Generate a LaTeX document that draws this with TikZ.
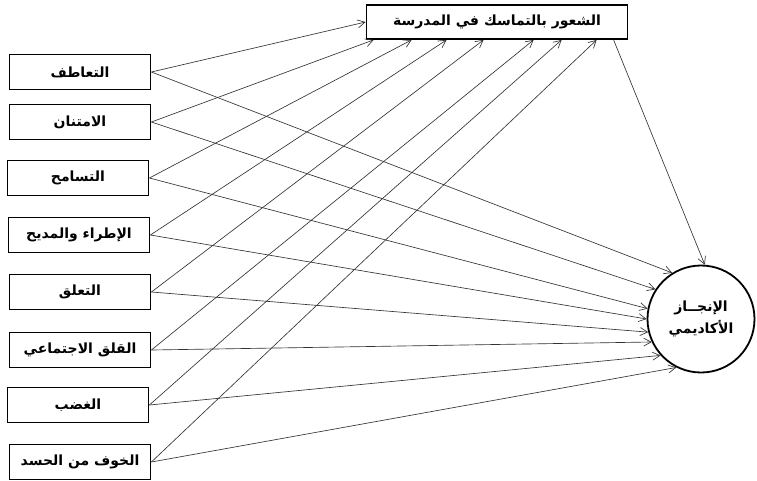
\documentclass[tikz,border=0pt]{standalone}
\usepackage{fontspec}
\newfontfamily\arabicfont[Script=Arabic]{DejaVu Sans}
\TeXXeTstate=1
\usetikzlibrary{arrows.meta, positioning}
\newcommand{\artxt}[1]{\beginR #1\endR}

\begin{document}
\begin{tikzpicture}[
  x=1pt, y=-1pt,
  font=\arabicfont\bfseries\fontsize{14}{18}\selectfont,
  >={Straight Barb[length=2.6mm,width=2.8mm]},
  fac/.style={draw, line width=1.8pt, minimum width=141pt, minimum height=35pt,
              inner sep=2pt},
  cohe/.style={draw, line width=1.8pt, minimum width=261pt, minimum height=34pt,
               inner sep=2pt},
  outc/.style={circle, draw, line width=1.8pt, minimum size=107pt, align=center,
               inner sep=0pt},
  arr/.style={->, black!80, line width=0.65pt}
]
\useasboundingbox (0,0) rectangle (757,480);

% factors
\node[fac] (f1) at (80,72)  {\artxt{التعاطف}};
\node[fac] (f2) at (80,122) {\artxt{الامتنان}};
\node[fac] (f3) at (78,178) {\artxt{التسامح}};
\node[fac] (f4) at (79,235) {\artxt{الإطراء والمديح}};
\node[fac] (f5) at (80,292) {\artxt{التعلق}};
\node[fac] (f6) at (80,350) {\artxt{القلق الاجتماعي}};
\node[fac] (f7) at (78,405) {\artxt{الغضب}};
\node[fac] (f8) at (80,462) {\artxt{الخوف من الحسد}};

% mediator and outcome
\node[cohe] (sc) at (497,22) {\artxt{الشعور بالتماسك في المدرسة}};
\node[outc] (ach) at (701,319) {\artxt{الإنجــاز}\\[4pt]\artxt{الأكاديمي}};

% paths to the mediator
\draw[arr] (f1.east) -- (sc.west);
\foreach \i/\dx in {2/8, 3/46, 4/81, 5/118, 6/168, 7/196, 8/231}
  \draw[arr] (f\i.east) -- ([xshift=\dx pt]sc.south west);

% paths to the outcome
\foreach \i/\a in {1/122, 2/147, 3/169, 4/180, 5/194, 6/205, 7/222, 8/243}
  \draw[arr] (f\i.east) -- (ach.\a);

\draw[arr] ([xshift=248pt]sc.south west) -- (ach.86);

\end{tikzpicture}
\end{document}
